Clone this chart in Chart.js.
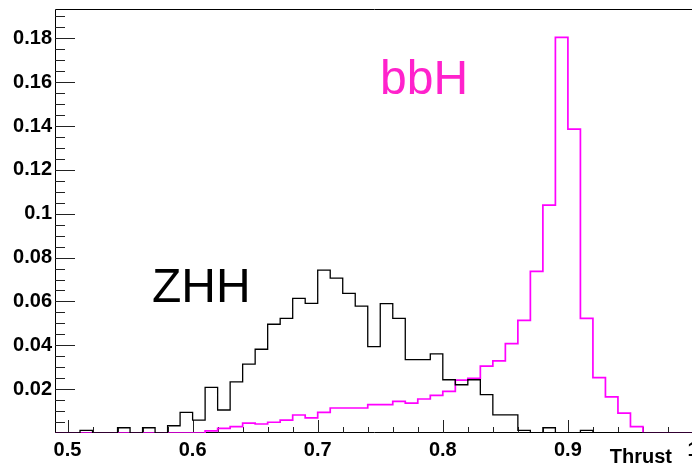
<!DOCTYPE html>
<html>
<head>
<meta charset="utf-8">
<script src="https://cdn.jsdelivr.net/npm/chart.js@4/dist/chart.umd.min.js"></script>
<style>
html,body{margin:0;padding:0;background:#fff;overflow:hidden;width:692px;height:467px;}
#wrap{position:absolute;left:0;top:0;width:700px;height:467px;}
</style>
</head>
<body>
<div id="wrap"><canvas id="c" width="700" height="467"></canvas></div>
<script>
// Bin low edges (width 0.01) and upper edge of the last bin
const binLow = [0.49,0.50,0.51,0.52,0.53,0.54,0.55,0.56,0.57,0.58,0.59,
                0.60,0.61,0.62,0.63,0.64,0.65,0.66,0.67,0.68,0.69,
                0.70,0.71,0.72,0.73,0.74,0.75,0.76,0.77,0.78,0.79,
                0.80,0.81,0.82,0.83,0.84,0.85,0.86,0.87,0.88,0.89,
                0.90,0.91,0.92,0.93,0.94,0.95,0.96,0.97,0.98,0.99];
const lastEdge = 1.00;

// ZHH (black) normalised entries per bin
const zhh = [0,0,0.0012,0,0,0.0024,0,0.0024,0,0.0033,0.0094,
             0.0059,0.0208,0.0105,0.0233,0.0314,0.0382,0.0496,0.0523,0.0614,0.0591,
             0.0743,0.0706,0.0637,0.0579,0.0394,0.0590,0.0523,0.0335,0.0335,0.0361,
             0.0243,0.0220,0.0243,0.0175,0.0083,0.0083,0.0012,0,0.0024,0,
             0,0.0012,0,0,0,0,0,0,0,0];

// bbH (magenta) normalised entries per bin
const bbh = [0,0,0,0,0,0,0,0,0,0,0,
             0,0.0010,0.0021,0.0029,0.0045,0.0041,0.0049,0.0059,0.0082,0.0069,
             0.0094,0.0114,0.0114,0.0114,0.0129,0.0129,0.0144,0.0136,0.0155,0.0172,
             0.0190,0.0241,0.0249,0.0305,0.0329,0.0408,0.0514,0.0737,0.1039,0.1805,
             0.1386,0.0523,0.0253,0.0165,0.0091,0.0029,0,0,0,0];

const xTickValues = [0.5,0.6,0.7,0.8,0.9,1.0];
const xTickLabels = ['0.5','0.6','0.7','0.8','0.9','1'];
const yTickValues = [0.02,0.04,0.06,0.08,0.10,0.12,0.14,0.16,0.18];
const yTickLabels = ['0.02','0.04','0.06','0.08','0.1','0.12','0.14','0.16','0.18'];

const seriesNames = ['ZHH','bbH'];
const xTitle = 'Thrust';

function histPoints(vals){
  const pts = binLow.map((x,i)=>({x:x, y:vals[i]}));
  pts.push({x:lastEdge, y:vals[vals.length-1]});
  return pts;
}

const FONT = "'Liberation Sans', Arial, Helvetica, sans-serif";

const frameAndTicks = {
  id:'frameAndTicks',
  beforeDatasetsDraw(chart){
    const {ctx, chartArea:a, scales:{x,y}} = chart;
    ctx.save();
    ctx.strokeStyle = '#000';
    ctx.lineWidth = 1;
    ctx.beginPath();
    ctx.rect(Math.round(a.left)+0.5, Math.round(a.top)+0.5, Math.round(a.right-a.left), Math.round(a.bottom-a.top)-1);
    ctx.stroke();
    ctx.strokeStyle = '#222';
    // y ticks (inside)
    ctx.beginPath();
    for(let k=1;k<=38;k++){
      const v = k*0.005;
      const py = Math.round(y.getPixelForValue(v))+0.5;
      if(py < a.top) continue;
      const major = (k%4===0);
      ctx.moveTo(a.left, py);
      ctx.lineTo(a.left + (major?20:10), py);
    }
    // x ticks (inside)
    for(let k=0;k<=25;k++){
      const v = 0.5 + k*0.02;
      const px = Math.round(x.getPixelForValue(v))+0.5;
      const major = (k%5===0);
      ctx.moveTo(px, a.bottom);
      ctx.lineTo(px, a.bottom - (major?13:6));
    }
    ctx.stroke();
    ctx.restore();
  },
  afterDatasetsDraw(chart){
    const {ctx} = chart;
    ctx.save();
    ctx.textBaseline = 'alphabetic';
    ctx.textAlign = 'left';
    ctx.font = "48px " + FONT;
    ctx.fillStyle = '#000';
    ctx.fillText(seriesNames[0], 152, 302);
    ctx.fillStyle = '#ff22cc';
    ctx.fillText(seriesNames[1], 380, 94);
    ctx.font = "bold 20px " + FONT;
    ctx.fillStyle = '#000';
    ctx.textAlign = 'right';
    ctx.fillText(xTitle, 672, 463);
    ctx.restore();
  }
};

new Chart(document.getElementById('c'), {
  type:'line',
  data:{
    datasets:[
      {label:seriesNames[0], data:histPoints(zhh), stepped:'before', borderColor:'#000', borderWidth:1.3, pointRadius:0, fill:false, tension:0},
      {label:seriesNames[1], data:histPoints(bbh), stepped:'before', borderColor:'#ff00ff', borderWidth:1.7, pointRadius:0, fill:false, tension:0}
    ]
  },
  options:{
    responsive:false,
    devicePixelRatio:1,
    animation:false,
    events:[],
    layout:{padding:{left:0,top:9,right:7,bottom:0}},
    plugins:{legend:{display:false}, tooltip:{enabled:false}, title:{display:false}},
    scales:{
      x:{
        type:'linear', min:0.49, max:1.0,
        afterBuildTicks(s){ s.ticks = xTickValues.map(v=>({value:v})); },
        afterFit(s){ s.height = 34; s.paddingLeft = 0; s.paddingRight = 0; s.paddingTop = 0; s.paddingBottom = 0; },
        grid:{display:false, drawTicks:false},
        border:{display:false},
        ticks:{
          autoSkip:false, maxRotation:0, minRotation:0, padding:5, color:'#000',
          font:{family:FONT, size:20, weight:'bold'},
          callback(v){ const i = xTickValues.findIndex(t=>Math.abs(t-v)<1e-9); return i>=0?xTickLabels[i]:''; }
        }
      },
      y:{
        type:'linear', min:0, max:0.1934,
        afterBuildTicks(s){ s.ticks = yTickValues.map(v=>({value:v})); },
        afterFit(s){ s.width = 55; s.paddingTop = 0; s.paddingBottom = 0; s.paddingLeft = 0; s.paddingRight = 0; },
        grid:{display:false, drawTicks:false},
        border:{display:false},
        ticks:{
          autoSkip:false, padding:3, color:'#000',
          font:{family:FONT, size:20, weight:'bold'},
          callback(v){ const i = yTickValues.findIndex(t=>Math.abs(t-v)<1e-9); return i>=0?yTickLabels[i]:''; }
        }
      }
    }
  },
  plugins:[frameAndTicks]
});
</script>
</body>
</html>
